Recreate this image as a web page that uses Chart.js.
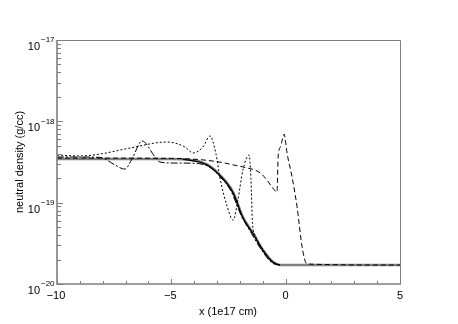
<!DOCTYPE html>
<html>
<head>
<meta charset="utf-8">
<script src="https://cdn.jsdelivr.net/npm/chart.js@4/dist/chart.umd.min.js"></script>
<style>
  html, body { margin: 0; padding: 0; background: #fff; }
  #wrap { width: 458px; height: 324px; }
</style>
</head>
<body>
<div id="wrap"><canvas id="densityChart" width="458" height="324"></canvas></div>
<script>
// Dane (x w 1e17 cm, gęstość w g/cc)
const profileX = [-10, -5, -4.5, -3.75, -3.3, -2.87, -2.3, -1.87, -1.43, -0.99, -0.55, -0.25, 0.5, 5];
const profileY = [3.44e-19, 3.44e-19, 3.42e-19, 3.2e-19, 2.8e-19, 2.19e-19, 1.35e-19, 6.67e-20, 4.24e-20, 2.62e-20, 1.86e-20, 1.71e-20, 1.71e-20, 1.71e-20];

const solidX = [-4.5, -3.75, -3.3, -2.87, -2.3, -1.87, -1.43, -0.99, -0.55, -0.25];
const solidY = [3.4e-19, 3.15e-19, 2.75e-19, 2.15e-19, 1.32e-19, 6.5e-20, 4.15e-20, 2.58e-20, 1.85e-20, 1.71e-20];

const dashDotX = [-10, -8.99, -8.12, -7.9, -7.46, -7.03, -6.72, -6.28, -5.71, -5.5, -4.84, -3.97, -3.62, -3.3, -2.95, -2.4, -1.95, -1.5, -1.05, -0.6, -0.3];
const dashDotY = [3.64e-19, 3.64e-19, 3.6e-19, 3.44e-19, 2.9e-19, 2.59e-19, 3.44e-19, 5.73e-19, 3.64e-19, 3.16e-19, 3.07e-19, 3.05e-19, 2.95e-19, 2.7e-19, 2.2e-19, 1.4e-19, 7.0e-20, 4.2e-20, 2.6e-20, 1.82e-20, 1.71e-20];

const dottedX = [-10, -8.99, -8.12, -6.81, -5.19, -4.4, -4.05, -3.62, -3.31, -3.05, -2.87, -2.56, -2.3, -2.09, -1.87, -1.6, -1.52, -1.45, -1.34, -0.99, -0.55, -0.25];
const dottedY = [3.85e-19, 3.75e-19, 3.96e-19, 4.7e-19, 5.57e-19, 4.83e-19, 4.08e-19, 4.83e-19, 6.6e-19, 4.0e-19, 2.0e-19, 9.0e-20, 6.1e-20, 1.08e-19, 2.52e-19, 3.85e-19, 2.0e-19, 5.5e-20, 4.0e-20, 2.62e-20, 1.86e-20, 1.71e-20];

const dashedX = [-10, -5, -3.75, -2.87, -2.13, -1.87, -1.12, -0.82, -0.6, -0.38, -0.33, -0.27, -0.22, -0.15, -0.07, 0.0, 0.06, 0.28, 0.5, 0.72, 0.93, 5];
const dashedY = [3.54e-19, 3.5e-19, 3.38e-19, 3.15e-19, 2.85e-19, 2.75e-19, 2.33e-19, 1.9e-19, 1.56e-19, 1.35e-19, 3.6e-19, 4.6e-19, 4.9e-19, 5.9e-19, 6.98e-19, 5.5e-19, 4.1e-19, 2.07e-19, 8.85e-20, 2.85e-20, 1.76e-20, 1.71e-20];

// Podpisy osi
const xMajorTicks = [-10, -5, 0, 5];
const yDecades = [-17, -18, -19, -20];
const xTitle = 'x (1e17 cm)';
const yTitle = 'neutral density (g/cc)';

function toPoints(xs, ys) {
  return xs.map((x, i) => ({ x: x, y: ys[i] }));
}

const FONT = 'Liberation Sans, Arial, Helvetica, sans-serif';
const FRAME = '#7f7f7f';

// Rysowanie ramki, ticków i podpisów w stylu oryginału
const axesPlugin = {
  id: 'axesPlugin',
  afterDraw(chart) {
    const ctx = chart.ctx;
    const area = chart.chartArea;
    const xs = chart.scales.x;
    const ys = chart.scales.y;
    ctx.save();

    // ramka
    ctx.strokeStyle = FRAME;
    ctx.lineWidth = 1;
    ctx.beginPath();
    ctx.moveTo(area.left, area.top + 0.5);
    ctx.lineTo(area.right + 0.5, area.top + 0.5);
    ctx.lineTo(area.right + 0.5, area.bottom);
    ctx.stroke();
    ctx.lineWidth = 1.6;
    ctx.beginPath();
    ctx.moveTo(area.left, area.top);
    ctx.lineTo(area.left, area.bottom);
    ctx.lineTo(area.right + 1, area.bottom);
    ctx.stroke();

    // ticki osi x
    ctx.lineWidth = 1;
    for (let v = -10; v <= 5; v++) {
      const px = Math.round(xs.getPixelForValue(v)) + 0.5;
      const len = v % 5 === 0 ? 5 : 3;
      ctx.beginPath();
      ctx.moveTo(px, area.bottom);
      ctx.lineTo(px, area.bottom - len);
      ctx.stroke();
    }

    // ticki osi y (log)
    yDecades.forEach(d => {
      const py = Math.round(ys.getPixelForValue(Math.pow(10, d))) + 0.5;
      ctx.beginPath();
      ctx.moveTo(area.left, py);
      ctx.lineTo(area.left + 6, py);
      ctx.stroke();
      if (d > -20) {
        for (let m = 2; m <= 9; m++) {
          const my = Math.round(ys.getPixelForValue(m * Math.pow(10, d - 1))) + 0.5;
          ctx.beginPath();
          ctx.moveTo(area.left, my);
          ctx.lineTo(area.left + 4, my);
          ctx.stroke();
        }
      }
    });

    // podpisy
    ctx.fillStyle = '#000';
    ctx.textBaseline = 'middle';
    yDecades.forEach(d => {
      const py = ys.getPixelForValue(Math.pow(10, d));
      ctx.font = '11px ' + FONT;
      ctx.textAlign = 'right';
      ctx.fillText('10', 40, py + 7);
      ctx.font = '8px ' + FONT;
      ctx.textAlign = 'left';
      ctx.fillText('\u2212' + Math.abs(d), 41, py);
    });

    ctx.font = '11px ' + FONT;
    ctx.textAlign = 'center';
    xMajorTicks.forEach(v => {
      const px = xs.getPixelForValue(v);
      const label = v < 0 ? '\u2212' + Math.abs(v) : String(v);
      ctx.fillText(label, px + (v < 0 ? -1 : 0), 296);
    });
    ctx.fillText(xTitle, 228, 312);

    ctx.translate(20, 162);
    ctx.rotate(-Math.PI / 2);
    ctx.fillText(yTitle, 0, 0);
    ctx.restore();
  }
};

function initDensityChart() {
  const el = document.getElementById('densityChart');
  if (!el) return;

  const common = { pointRadius: 0, fill: false, cubicInterpolationMode: 'monotone', borderColor: '#000', borderWidth: 1 };

  new Chart(el, {
    type: 'scatter',
    data: {
      datasets: [
        Object.assign({}, common, { data: toPoints(dashedX, dashedY), showLine: true, borderDash: [5, 3], order: 1 }),
        Object.assign({}, common, { data: toPoints(dottedX, dottedY), showLine: true, borderDash: [2, 2], order: 2 }),
        Object.assign({}, common, { data: toPoints(dashDotX, dashDotY), showLine: true, borderDash: [7, 2, 2, 2], order: 3 }),
        Object.assign({}, common, { data: toPoints(solidX, solidY), showLine: true, borderWidth: 1.3, order: 4 }),
        Object.assign({}, common, { data: toPoints(profileX, profileY), showLine: true, borderColor: '#808080', borderWidth: 2.5, order: 5 })
      ]
    },
    options: {
      responsive: false,
      animation: false,
      layout: { padding: { left: 57, right: 58, top: 40, bottom: 40 } },
      plugins: { legend: { display: false }, tooltip: { enabled: false } },
      scales: {
        x: { type: 'linear', min: -10, max: 5, display: false },
        y: { type: 'logarithmic', min: 1e-20, max: 1e-17, display: false }
      }
    },
    plugins: [axesPlugin]
  });
}

document.addEventListener('DOMContentLoaded', initDensityChart);
</script>
</body>
</html>
